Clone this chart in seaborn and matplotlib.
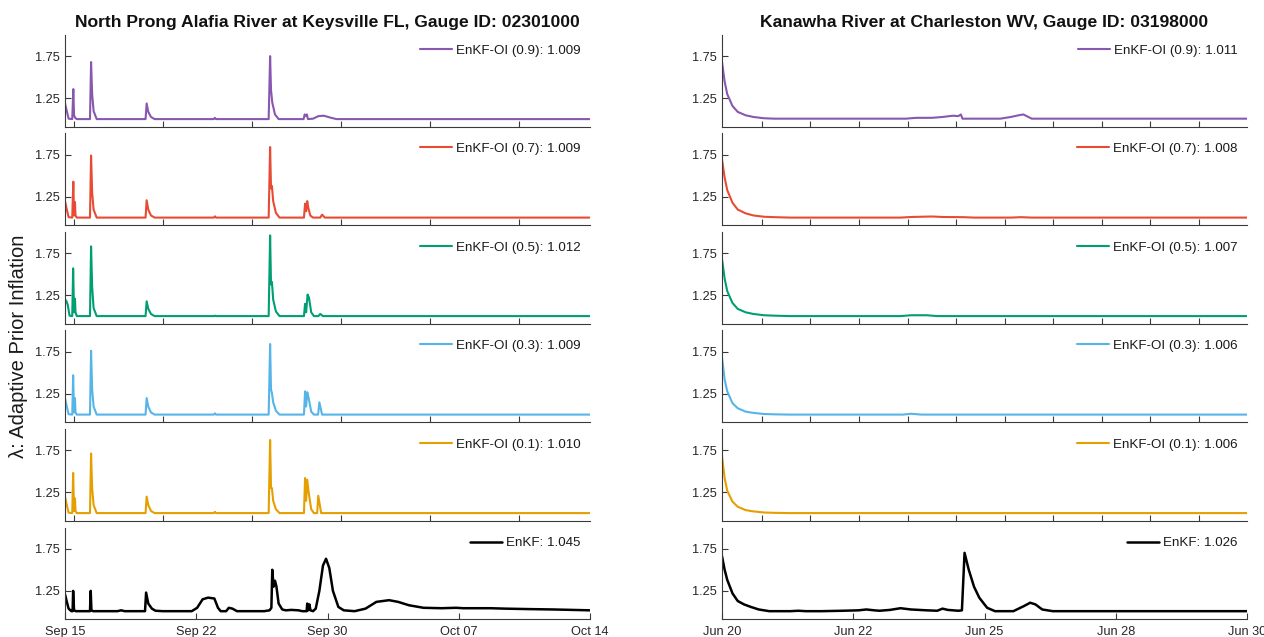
import numpy as np
import pandas as pd
import matplotlib
matplotlib.use("Agg")
import matplotlib.pyplot as plt
import seaborn as sns

# ---------------- data ----------------
left_title = "North Prong Alafia River at Keysville FL, Gauge ID: 02301000"
right_title = "Kanawha River at Charleston WV, Gauge ID: 03198000"
ylabel = "λ: Adaptive Prior Inflation"

left_xticklabels = ["Sep 15", "Sep 22", "Sep 30", "Oct 07", "Oct 14"]
right_xticklabels = ["Jun 20", "Jun 22", "Jun 25", "Jun 28", "Jun 30"]
left_span_days = 29
right_span_days = 10

series_names = ["EnKF-OI (0.9)", "EnKF-OI (0.7)", "EnKF-OI (0.5)",
                "EnKF-OI (0.3)", "EnKF-OI (0.1)", "EnKF"]
left_means = ["1.009", "1.009", "1.012", "1.009", "1.010", "1.045"]
right_means = ["1.011", "1.008", "1.007", "1.006", "1.006", "1.026"]
colors = ["#8857b0", "#e84b33", "#009e73", "#56b4e9", "#e69f00", "#000000"]

# Left gauge (days since Sep 15)
L09_t = [0, 0.1, 0.2, 0.4, 0.46, 0.5, 0.56, 0.65, 1.38, 1.44, 1.5, 1.58, 1.75,
         4.45, 4.51, 4.6, 4.75, 4.95, 8.22, 8.28, 8.34, 11.25, 11.33, 11.38,
         11.45, 11.6, 11.8, 13.18, 13.24, 13.3, 13.36, 13.42, 13.7, 14.0, 14.3,
         14.7, 15.0, 29]
L09_v = [1.19, 1.1, 1.01, 1.005, 1.36, 1.05, 1.02, 1.005, 1.005, 1.68, 1.3,
         1.1, 1.005, 1.005, 1.19, 1.09, 1.03, 1.005, 1.005, 1.02, 1.005, 1.005,
         1.75, 1.35, 1.2, 1.06, 1.005, 1.005, 1.06, 1.045, 1.06, 1.005, 1.01,
         1.04, 1.045, 1.02, 1.005, 1.005]

L07_t = [0, 0.1, 0.2, 0.4, 0.46, 0.5, 0.55, 0.58, 0.65, 1.38, 1.44, 1.5, 1.58,
         1.75, 4.45, 4.51, 4.6, 4.75, 4.95, 8.22, 8.28, 8.34, 11.25, 11.33,
         11.38, 11.43, 11.5, 11.65, 11.85, 13.2, 13.26, 13.32, 13.38, 13.44,
         13.55, 13.7, 14.1, 14.2, 14.35, 29]
L07_v = [1.2, 1.1, 1.01, 1.005, 1.43, 1.03, 1.19, 1.03, 1.005, 1.005, 1.74,
         1.3, 1.1, 1.005, 1.005, 1.21, 1.1, 1.03, 1.005, 1.005, 1.02, 1.005,
         1.005, 1.84, 1.35, 1.38, 1.2, 1.06, 1.005, 1.005, 1.17, 1.08, 1.2,
         1.12, 1.03, 1.005, 1.005, 1.04, 1.005, 1.005]

L05_t = [0, 0.06, 0.15, 0.25, 0.4, 0.45, 0.5, 0.55, 0.58, 0.65, 1.38, 1.44,
         1.5, 1.58, 1.75, 4.45, 4.51, 4.6, 4.75, 4.95, 8.22, 8.28, 8.34, 11.25,
         11.33, 11.38, 11.43, 11.5, 11.65, 11.85, 13.2, 13.26, 13.32, 13.4,
         13.48, 13.6, 13.75, 14.0, 14.1, 14.25, 29]
L05_v = [1.16, 1.19, 1.14, 1.01, 1.005, 1.57, 1.05, 1.21, 1.05, 1.005, 1.005,
         1.83, 1.35, 1.1, 1.005, 1.005, 1.18, 1.09, 1.03, 1.005, 1.005, 1.01,
         1.005, 1.005, 1.96, 1.38, 1.41, 1.2, 1.06, 1.005, 1.005, 1.15, 1.05,
         1.26, 1.22, 1.05, 1.005, 1.005, 1.03, 1.005, 1.005]

L03_t = [0, 0.1, 0.2, 0.4, 0.45, 0.5, 0.55, 0.58, 0.65, 1.38, 1.44, 1.5, 1.58,
         1.75, 4.45, 4.51, 4.6, 4.75, 4.95, 8.22, 8.28, 8.34, 11.25, 11.33,
         11.38, 11.43, 11.5, 11.65, 11.85, 13.2, 13.26, 13.32, 13.38, 13.46,
         13.6, 13.75, 13.98, 14.05, 14.2, 29]
L03_v = [1.2, 1.1, 1.01, 1.005, 1.47, 1.03, 1.2, 1.03, 1.005, 1.005, 1.76,
         1.3, 1.1, 1.005, 1.005, 1.2, 1.1, 1.03, 1.005, 1.005, 1.02, 1.005,
         1.005, 1.84, 1.3, 1.26, 1.15, 1.05, 1.005, 1.005, 1.28, 1.1, 1.27,
         1.2, 1.04, 1.005, 1.005, 1.15, 1.005, 1.005]

L01_t = [0, 0.1, 0.2, 0.4, 0.45, 0.5, 0.55, 0.58, 0.65, 1.38, 1.44, 1.5, 1.58,
         1.75, 4.45, 4.51, 4.6, 4.75, 4.95, 8.22, 8.28, 8.34, 11.25, 11.33,
         11.38, 11.43, 11.5, 11.65, 11.85, 13.2, 13.26, 13.32, 13.38, 13.46,
         13.6, 13.75, 13.93, 13.99, 14.15, 29]
L01_v = [1.2, 1.1, 1.01, 1.005, 1.48, 1.03, 1.18, 1.03, 1.005, 1.005, 1.71,
         1.3, 1.1, 1.005, 1.005, 1.2, 1.1, 1.03, 1.005, 1.005, 1.02, 1.005,
         1.005, 1.87, 1.3, 1.3, 1.15, 1.05, 1.005, 1.005, 1.42, 1.15, 1.4,
         1.25, 1.05, 1.005, 1.005, 1.21, 1.005, 1.005]

LEK_t = [0, 0.1, 0.2, 0.35, 0.42, 0.45, 0.5, 0.6, 1.38, 1.42, 1.46, 1.55, 2.9,
         3.1, 3.3, 4.42, 4.48, 4.6, 4.8, 5.0, 5.4, 7.0, 7.3, 7.6, 7.9, 8.25,
         8.45, 8.6, 8.9, 9.05, 9.25, 9.5, 11.0, 11.3, 11.4, 11.45, 11.52, 11.6,
         11.68, 11.8, 12.0, 12.2, 12.5, 12.9, 13.1, 13.35, 13.38, 13.44, 13.5,
         13.56, 13.7, 13.85, 14.05, 14.25, 14.42, 14.6, 14.8, 15.1, 15.4, 16.0,
         16.6, 17.2, 17.9, 18.4, 19.0, 19.8, 20.8, 21.6, 22.0, 22.6, 23.5,
         24.3, 25.5, 27.0, 29.0]
LEK_v = [1.21, 1.12, 1.04, 1.01, 1.01, 1.25, 1.02, 1.01, 1.01, 1.25, 1.02,
         1.01, 1.01, 1.02, 1.01, 1.01, 1.23, 1.1, 1.04, 1.015, 1.01, 1.01,
         1.05, 1.15, 1.17, 1.16, 1.05, 1.01, 1.01, 1.05, 1.04, 1.01, 1.01,
         1.02, 1.05, 1.5, 1.3, 1.37, 1.3, 1.1, 1.03, 1.02, 1.025, 1.02, 1.01,
         1.01, 1.1, 1.02, 1.09, 1.02, 1.01, 1.04, 1.25, 1.55, 1.63, 1.52, 1.25,
         1.06, 1.02, 1.01, 1.04, 1.12, 1.14, 1.12, 1.08, 1.05, 1.045, 1.05,
         1.045, 1.045, 1.045, 1.04, 1.035, 1.03, 1.02]

# Right gauge (days since Jun 20)
R09_t = [0, 0.05, 0.1, 0.2, 0.3, 0.45, 0.6, 0.8, 1.0, 1.3, 3.5, 3.7, 4.0, 4.2,
         4.4, 4.5, 4.55, 4.58, 4.62, 5.3, 5.5, 5.65, 5.74, 5.9, 10]
R09_v = [1.68, 1.45, 1.3, 1.16, 1.09, 1.05, 1.03, 1.015, 1.01, 1.01, 1.01,
         1.02, 1.02, 1.03, 1.045, 1.04, 1.06, 1.01, 1.01, 1.01, 1.03, 1.05,
         1.06, 1.01, 1.01]
R07_t = [0, 0.05, 0.1, 0.2, 0.3, 0.45, 0.6, 0.8, 1.0, 1.3, 3.4, 3.6, 3.8, 4.0,
         4.2, 4.6, 4.8, 5.5, 5.7, 5.9, 10]
R07_v = [1.69, 1.48, 1.33, 1.18, 1.1, 1.055, 1.03, 1.015, 1.01, 1.005, 1.005,
         1.012, 1.015, 1.018, 1.012, 1.01, 1.005, 1.005, 1.01, 1.005, 1.005]
R05_t = [0, 0.05, 0.1, 0.2, 0.3, 0.45, 0.6, 0.8, 1.0, 1.3, 3.4, 3.6, 3.9, 4.1,
         10]
R05_v = [1.68, 1.45, 1.3, 1.16, 1.09, 1.05, 1.03, 1.015, 1.01, 1.005, 1.005,
         1.015, 1.015, 1.005, 1.005]
R03_t = [0, 0.05, 0.1, 0.2, 0.3, 0.45, 0.6, 0.8, 1.0, 1.3, 3.45, 3.6, 3.8, 10]
R03_v = [1.68, 1.42, 1.28, 1.14, 1.08, 1.04, 1.025, 1.012, 1.008, 1.005,
         1.005, 1.015, 1.005, 1.005]
R01_t = [0, 0.05, 0.1, 0.2, 0.3, 0.45, 0.6, 0.8, 1.0, 1.3, 10]
R01_v = [1.68, 1.42, 1.27, 1.14, 1.08, 1.04, 1.025, 1.012, 1.008, 1.005,
         1.005]
REK_t = [0, 0.05, 0.1, 0.2, 0.3, 0.42, 0.55, 0.7, 0.9, 1.3, 1.45, 1.6, 1.9,
         2.3, 2.6, 2.75, 2.9, 3.0, 3.2, 3.4, 3.6, 3.9, 4.1, 4.2, 4.3, 4.5, 4.57,
         4.62, 4.7, 4.8, 4.9, 5.05, 5.2, 5.55, 5.75, 5.87, 5.97, 6.1, 6.3, 10]
REK_v = [1.66, 1.5, 1.38, 1.22, 1.13, 1.09, 1.06, 1.03, 1.01, 1.01, 1.015,
         1.01, 1.01, 1.015, 1.02, 1.03, 1.02, 1.015, 1.025, 1.045, 1.03, 1.02,
         1.015, 1.04, 1.025, 1.015, 1.02, 1.7, 1.5, 1.3, 1.17, 1.05, 1.01,
         1.01, 1.07, 1.11, 1.09, 1.03, 1.01, 1.01]

left_series = [(L09_t, L09_v), (L07_t, L07_v), (L05_t, L05_v),
               (L03_t, L03_v), (L01_t, L01_v), (LEK_t, LEK_v)]
right_series = [(R09_t, R09_v), (R07_t, R07_v), (R05_t, R05_v),
                (R03_t, R03_v), (R01_t, R01_v), (REK_t, REK_v)]

# ---------------- style ----------------
sns.set_theme(style="ticks")
plt.rcParams["font.family"] = ["Liberation Sans", "DejaVu Sans"]
plt.rcParams["axes.linewidth"] = 0.8
spine_col = "#3a3a3a"

fig = plt.figure(figsize=(12.64, 6.37), dpi=100)
W, H = 1264, 637
panel_top0, pitch, ph = 35, 98.5, 91.7
cols = [(65, 525), (722, 525)]


def minor_positions(span, first, step):
    return list(np.arange(first, span + 1e-9, step))


for c, (x0, w) in enumerate(cols):
    series = left_series if c == 0 else right_series
    means = left_means if c == 0 else right_means
    span = left_span_days if c == 0 else right_span_days
    labels = left_xticklabels if c == 0 else right_xticklabels
    for i in range(6):
        top = panel_top0 + pitch * i
        ax = fig.add_axes([x0 / W, 1 - (top + ph) / H, w / W, ph / H])
        t, v = series[i]
        df = pd.DataFrame({"day": t, "lam": v})
        lw = 1.5 if i < 5 else 1.8
        sns.lineplot(data=df, x="day", y="lam", ax=ax, color=colors[i],
                     linewidth=lw, label=f"{series_names[i]}: {means[i]}",
                     estimator=None, sort=False)
        ax.set_xlim(0, span)
        ax.set_ylim(0.915, 2.0)
        ax.set_yticks([1.25, 1.75])
        ax.set_yticklabels(["1.25", "1.75"])
        ax.set_xlabel("")
        ax.set_ylabel("")
        sns.despine(ax=ax)
        for s in ["left", "bottom"]:
            ax.spines[s].set_color(spine_col)
            ax.spines[s].set_linewidth(0.8)
        ax.tick_params(direction="in", length=4, width=0.8, color=spine_col,
                       labelsize=9.2, labelcolor="#262626", pad=4)
        if i < 5:
            if c == 0:
                ax.set_xticks(minor_positions(span, 0.47, 4.92))
            else:
                ax.set_xticks(minor_positions(span, 0.76, 0.925))
            ax.set_xticklabels([])
        else:
            ax.set_xticks(np.linspace(0, span, 5))
            ax.set_xticklabels(labels)
            ax.tick_params(axis="x", pad=5)
        leg = ax.legend(loc="upper right", frameon=False, fontsize=9.6,
                        handlelength=2.4, handletextpad=0.3,
                        borderaxespad=0.3, bbox_to_anchor=(1.0, 1.0))
        for txt in leg.get_texts():
            txt.set_color("#1a1a1a")
        if i == 0:
            ax.set_title(left_title if c == 0 else right_title,
                         fontsize=12.6, fontweight="bold", pad=6,
                         color="#111111")

fig.text(0.015, 0.457, ylabel, rotation=90, va="center", ha="center",
         fontsize=14.5, color="#1a1a1a")

fig.savefig("out.png", dpi=100, facecolor="white")
